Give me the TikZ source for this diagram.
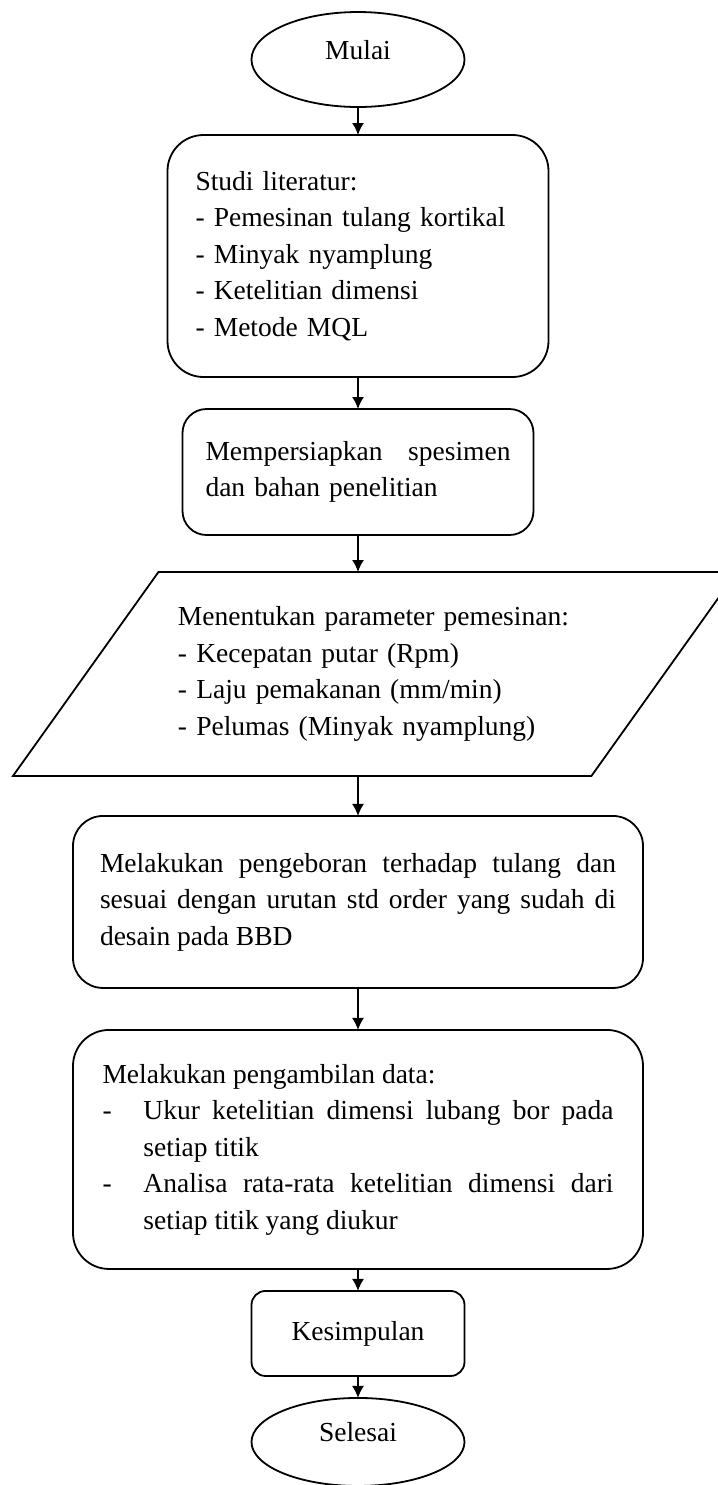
\documentclass[tikz,border=0pt]{standalone}
\usepackage{fontspec}
\setmainfont{Liberation Serif}
\usetikzlibrary{arrows.meta,positioning,shapes.geometric}
\tikzset{
  terminal/.style = {ellipse, draw=black, line width=0.9pt, minimum width=106.5pt,
                     minimum height=#1, inner sep=0pt, outer sep=0pt,
                     text height=9pt, text depth=9pt,
                     font=\fontsize{13.75pt}{18.25pt}\selectfont},
  box/.style      = {rectangle, rounded corners=#1, draw=black, line width=0.9pt,
                     align=left, inner xsep=4pt, inner ysep=2pt, outer sep=0pt,
                     font=\fontsize{13.75pt}{18.25pt}\selectfont},
  iobox/.style    = {trapezium, trapezium left angle=54.5, trapezium right angle=125.5,
                     trapezium stretches body, draw=black, line width=0.9pt,
                     align=left, text width=197pt, inner xsep=9.75pt, inner ysep=17.35pt,
                     outer sep=0pt, minimum height=101.5pt,
                     font=\fontsize{13.75pt}{18.25pt}\selectfont},
  flow/.style     = {-{Latex[length=6pt,width=6pt]}, line width=0.8pt, draw=black},
}

\begin{document}
\begin{tikzpicture}[x=1pt, y=1pt]
  \useasboundingbox (0,0) rectangle (359,-742.5);

  \node[terminal=47.5pt] (mulai) at (179,-29.75) {Mulai};

  \node[box=18pt, below=14pt of mulai, minimum width=190.5pt, minimum height=121pt,
        text width=162.5pt] (studi)
       {Studi literatur:\\ - Pemesinan tulang kortikal\\ - Minyak nyamplung\\
        - Ketelitian dimensi\\ - Metode MQL};

  \node[box=12pt, below=16pt of studi, minimum width=175.5pt, minimum height=63pt,
        text width=152.5pt] (siap)
       {Mempersiapkan\hfill spesimen\\ dan bahan penelitian};

  \node[iobox, below=18.5pt of siap, xshift=8.5pt] (param)
       {Menentukan parameter pemesinan:\\ - Kecepatan putar (Rpm)\\
        - Laju pemakanan (mm/min)\\ - Pelumas (Minyak nyamplung)};

  \node[box=15pt, below=20pt of param, xshift=-8.5pt, minimum width=285pt,
        minimum height=86pt, text width=258pt, align=justify] (bor)
       {\tolerance=9999 Melakukan pengeboran terhadap tulang dan\linebreak
        sesuai dengan urutan std order yang sudah di\linebreak desain pada BBD};

  \node[box=18pt, below=21pt of bor, minimum width=285pt, minimum height=119.5pt,
        text width=255.5pt, align=justify] (data)
       {\tolerance=9999 Melakukan pengambilan data:\par
        \hangindent=20.5pt\hangafter=1\makebox[20.5pt][l]{-}Ukur ketelitian dimensi
        lubang bor pada\linebreak setiap titik\par
        \hangindent=20.5pt\hangafter=1\makebox[20.5pt][l]{-}Analisa rata-rata
        ketelitian dimensi dari\linebreak setiap titik yang diukur\par};

  \node[box=7pt, below=11pt of data, minimum width=106.5pt, minimum height=42.5pt,
        align=center] (simpul) {Kesimpulan};

  \node[terminal=44pt, below=11pt of simpul] (selesai) {Selesai};

  \draw[flow] (mulai) -- (studi);
  \draw[flow] (studi) -- (siap);
  \draw[flow] (siap) -- (siap |- param.north);
  \draw[flow] (param.south -| bor) -- (bor);
  \draw[flow] (bor) -- (data);
  \draw[flow] (data) -- (simpul);
  \draw[flow] (simpul) -- (selesai);
\end{tikzpicture}
\end{document}
